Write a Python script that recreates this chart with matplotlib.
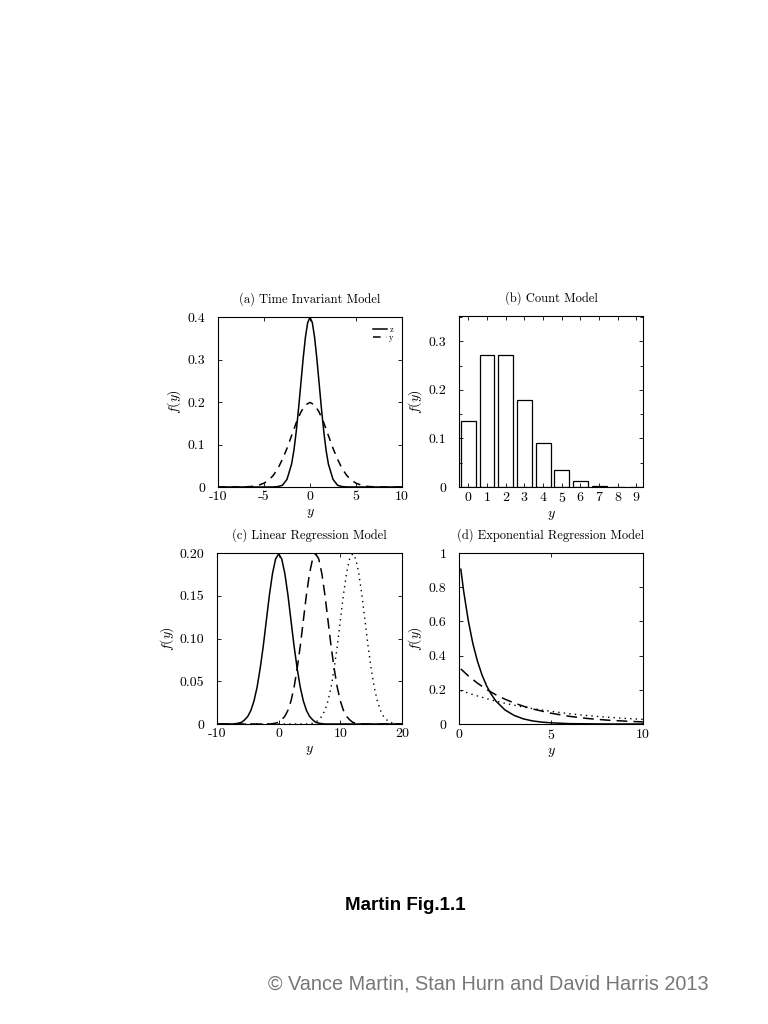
import matplotlib
matplotlib.use('Agg')
import matplotlib.pyplot as plt
from matplotlib.ticker import MultipleLocator

plt.rcParams['font.family'] = 'cmr10'
plt.rcParams['mathtext.fontset'] = 'cm'
plt.rcParams['axes.unicode_minus'] = False
plt.rcParams['axes.formatter.use_mathtext'] = True

# (a) Time Invariant Model: densities of z and y
az_x = [-10, -4.5, -4, -3.5, -3, -2.5, -2, -1.75, -1.5, -1.25, -1, -0.75,
        -0.5, -0.25, 0, 0.25, 0.5, 0.75, 1, 1.25, 1.5, 1.75, 2, 2.5, 3, 3.5,
        4, 4.5, 10]
az_f = [0.0, 0.0, 0.0001, 0.001, 0.004, 0.018, 0.054, 0.086, 0.130, 0.183,
        0.242, 0.301, 0.352, 0.387, 0.399, 0.387, 0.352, 0.301, 0.242, 0.183,
        0.130, 0.086, 0.054, 0.018, 0.004, 0.001, 0.0001, 0.0, 0.0]
ay_x = [-10, -9.5, -9, -8.5, -8, -7.5, -7, -6.5, -6, -5.5, -5, -4.5, -4, -3.5,
        -3, -2.5, -2, -1.5, -1, -0.5, 0, 0.5, 1, 1.5, 2, 2.5, 3, 3.5, 4, 4.5,
        5, 5.5, 6, 6.5, 7, 7.5, 8, 8.5, 9, 9.5, 10]
ay_f = ([0.0] * 6
        + [0.0004, 0.001, 0.002, 0.005, 0.009, 0.016, 0.027, 0.043, 0.065,
           0.091, 0.121, 0.151, 0.176, 0.193]
        + [0.199]
        + [0.193, 0.176, 0.151, 0.121, 0.091, 0.065, 0.043, 0.027, 0.016,
           0.009, 0.005, 0.002, 0.001, 0.0004]
        + [0.0] * 6)

# (b) Count Model
b_k = [0, 1, 2, 3, 4, 5, 6, 7, 8, 9]
b_p = [0.135, 0.271, 0.271, 0.180, 0.090, 0.036, 0.012, 0.003, 0.001, 0.0002]

# (c) Linear Regression Model
c_x = [-10, -9.5, -9, -8.5, -8, -7.5, -7, -6.5, -6, -5.5, -5, -4.5, -4, -3.5,
       -3, -2.5, -2, -1.5, -1, -0.5, 0, 0.5, 1, 1.5, 2, 2.5, 3, 3.5, 4, 4.5,
       5, 5.5, 6, 6.5, 7, 7.5, 8, 8.5, 9, 9.5, 10, 10.5, 11, 11.5, 12, 12.5,
       13, 13.5, 14, 14.5, 15, 15.5, 16, 16.5, 17, 17.5, 18, 18.5, 19, 19.5, 20]
c_low = ([0.0] * 6
         + [0.0004, 0.001, 0.002, 0.005, 0.009, 0.016, 0.027, 0.043, 0.065,
            0.091, 0.121, 0.151, 0.176, 0.193]
         + [0.199]
         + [0.193, 0.176, 0.151, 0.121, 0.091, 0.065, 0.043, 0.027, 0.016,
            0.009, 0.005, 0.002, 0.001, 0.0004]
         + [0.0] * 26)
c_mid = ([0.0] * 18
         + [0.0004, 0.001, 0.002, 0.005, 0.009, 0.016, 0.027, 0.043, 0.065,
            0.091, 0.121, 0.151, 0.176, 0.193]
         + [0.199]
         + [0.193, 0.176, 0.151, 0.121, 0.091, 0.065, 0.043, 0.027, 0.016,
            0.009, 0.005, 0.002, 0.001, 0.0004]
         + [0.0] * 14)
c_high = ([0.0] * 30
          + [0.0004, 0.001, 0.002, 0.005, 0.009, 0.016, 0.027, 0.043, 0.065,
             0.091, 0.121, 0.151, 0.176, 0.193]
          + [0.199]
          + [0.193, 0.176, 0.151, 0.121, 0.091, 0.065, 0.043, 0.027, 0.016,
             0.009, 0.005, 0.002, 0.001, 0.0004]
          + [0.0] * 2)

# (d) Exponential Regression Model
d1_x = [0.1, 0.25, 0.5, 0.75, 1, 1.25, 1.5, 1.75, 2, 2.5, 3, 3.5, 4, 4.5, 5,
        6, 7, 8, 9, 10]
d1_f = [0.905, 0.779, 0.607, 0.472, 0.368, 0.287, 0.223, 0.174, 0.135, 0.082,
        0.050, 0.030, 0.018, 0.011, 0.007, 0.002, 0.001, 0.0, 0.0, 0.0]
d2_x = [0.1, 0.5, 1, 1.5, 2, 2.5, 3, 3.5, 4, 5, 6, 7, 8, 9, 10]
d2_f = [0.322, 0.282, 0.239, 0.202, 0.171, 0.145, 0.123, 0.104, 0.088, 0.063,
        0.045, 0.032, 0.023, 0.017, 0.012]
d3_x = [0.1, 0.5, 1, 1.5, 2, 2.5, 3, 3.5, 4, 5, 6, 7, 8, 9, 10]
d3_f = [0.196, 0.181, 0.164, 0.148, 0.134, 0.121, 0.110, 0.099, 0.090, 0.074,
        0.060, 0.049, 0.040, 0.033, 0.027]

fig = plt.figure(figsize=(7.68, 10.24), dpi=100)
W, H = 768, 1024


def panel(l, t, r, b):
    return fig.add_axes([l / W, 1 - b / H, (r - l) / W, (b - t) / H])


def style(ax, title):
    ax.set_title(title, fontsize=9, pad=10)
    ax.tick_params(direction='in', top=True, right=True, labelsize=10,
                   length=3, width=0.6)
    ax.tick_params(axis='x', pad=3)
    ax.tick_params(axis='y', pad=9)
    ax.tick_params(which='minor', direction='in', top=True, right=True,
                   length=2, width=0.6)
    for s in ax.spines.values():
        s.set_linewidth(0.8)
    ax.set_ylabel(r'$f(y)$', fontsize=10, labelpad=3)
    ax.set_xlabel(r'$y$', fontsize=10, labelpad=3)


ax_a = panel(218, 317, 402, 487)
ax_b = panel(459, 316, 643, 487)
ax_c = panel(217, 553, 402, 724)
ax_d = panel(459, 553, 643, 724)

# (a)
ax_a.plot(az_x, az_f, 'k-', lw=1.1, label='z')
ax_a.plot(ay_x, ay_f, 'k--', lw=1.1, dashes=(5, 4), label='y')
ax_a.set_xlim(-10, 10)
ax_a.set_ylim(0, 0.4)
ax_a.set_xticks([-10, -5, 0, 5, 10])
ax_a.set_yticks([0, 0.1, 0.2, 0.3, 0.4])
ax_a.set_yticklabels(['0', '0.1', '0.2', '0.3', '0.4'])
ax_a.set_xticklabels(['-10', '-5', '0', '5', '10'])
style(ax_a, '(a) Time Invariant Model')
ax_a.legend(loc='upper right', frameon=False, fontsize=6, handlelength=1.6,
            handletextpad=0.3, labelspacing=0.0, borderaxespad=0.6)

# (b)
ax_b.bar(b_k, b_p, width=0.8, color='white', edgecolor='k', linewidth=0.9)
ax_b.set_xlim(-0.5, 9.35)
ax_b.set_ylim(0, 0.352)
ax_b.set_xticks(b_k)
ax_b.set_yticks([0, 0.1, 0.2, 0.3])
ax_b.set_yticklabels(['0', '0.1', '0.2', '0.3'])
ax_b.yaxis.set_minor_locator(MultipleLocator(0.05))
style(ax_b, '(b) Count Model')

# (c)
ax_c.plot(c_x, c_low, 'k-', lw=1.1)
ax_c.plot(c_x, c_mid, 'k--', lw=1.1, dashes=(7, 4))
ax_c.plot(c_x, c_high, 'k:', lw=1.0, dashes=(1, 3))
ax_c.set_xlim(-10, 20)
ax_c.set_ylim(0, 0.2)
ax_c.set_xticks([-10, 0, 10, 20])
ax_c.set_xticklabels(['-10', '0', '10', '20'])
ax_c.set_yticks([0, 0.05, 0.10, 0.15, 0.20])
ax_c.set_yticklabels(['0', '0.05', '0.10', '0.15', '0.20'])
style(ax_c, '(c) Linear Regression Model')

# (d)
ax_d.plot(d1_x, d1_f, 'k-', lw=1.1)
ax_d.plot(d2_x, d2_f, 'k--', lw=1.1, dashes=(7, 4))
ax_d.plot(d3_x, d3_f, 'k:', lw=1.0, dashes=(1, 3))
ax_d.set_xlim(0, 10)
ax_d.set_ylim(0, 1)
ax_d.set_xticks([0, 5, 10])
ax_d.set_yticks([0, 0.2, 0.4, 0.6, 0.8, 1])
ax_d.set_yticklabels(['0', '0.2', '0.4', '0.6', '0.8', '1'])
style(ax_d, '(d) Exponential Regression Model')

fig.text(405 / W, 1 - 905 / H, 'Martin Fig.1.1', ha='center', va='center',
         fontsize=13.5, fontweight='bold', family='Liberation Sans')
fig.text(488 / W, 1 - 984 / H,
         '\u00a9 Vance Martin, Stan Hurn and David Harris 2013',
         ha='center', va='center', fontsize=14.3, color='#777777',
         family='Liberation Sans')

fig.savefig('out.png', dpi=100)
